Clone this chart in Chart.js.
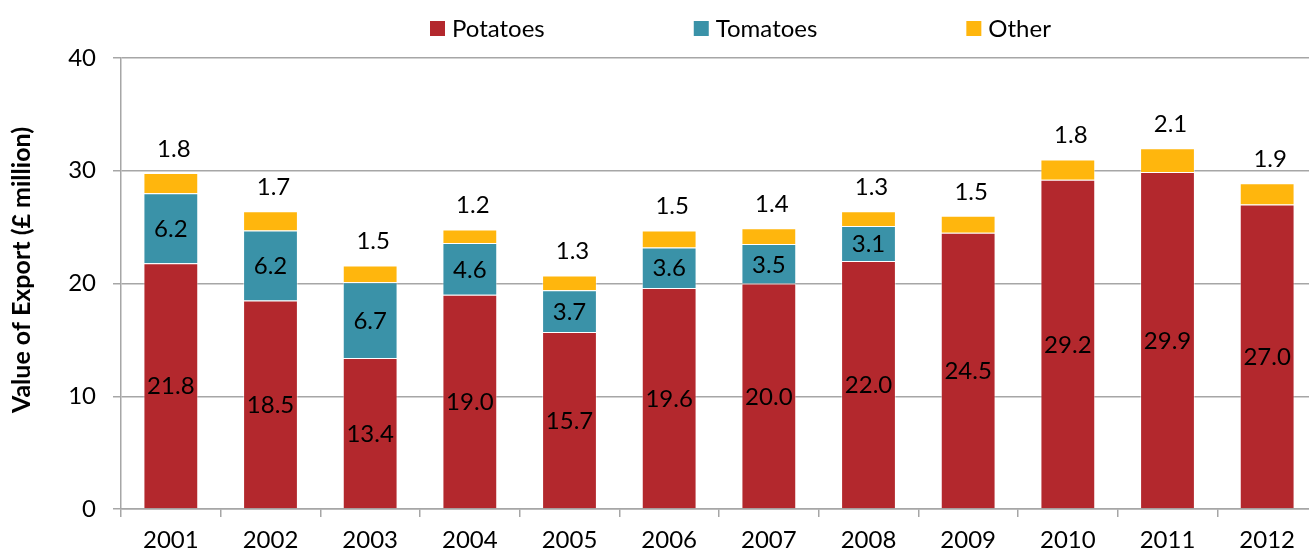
<!DOCTYPE html>
<html lang="en">

<head>
    <meta charset="UTF-8">
    <title>Value of Export</title>
    <style>
        body {
            margin: 0;
            padding: 0;
            background: #ffffff;
            overflow: hidden;
        }

        #wrap {
            width: 1320px;
            height: 554px;
        }
    </style>
</head>

<body>
    <div id="wrap">
        <canvas id="exportChart" width="1320" height="554"></canvas>
    </div>

    <script src="https://cdn.jsdelivr.net/npm/chart.js"></script>
    <script>
        // values
        const years = ['2001', '2002', '2003', '2004', '2005', '2006', '2007', '2008', '2009', '2010', '2011', '2012'];
        const potatoes = [21.8, 18.5, 13.4, 19.0, 15.7, 19.6, 20.0, 22.0, 24.5, 29.2, 29.9, 27.0];
        const tomatoes = [6.2, 6.2, 6.7, 4.6, 3.7, 3.6, 3.5, 3.1, null, null, null, null];
        const other = [1.8, 1.7, 1.5, 1.2, 1.3, 1.5, 1.4, 1.3, 1.5, 1.8, 2.1, 1.9];
        const yTicks = [0, 10, 20, 30, 40];
        const yTitle = 'Value of Export (£ million)';

        const FONT = 'Lato, "Open Sans", sans-serif';
        const GRID = '#a6a6a6';

        // value labels: inside for the two big series, above the bar for "Other"
        const valueLabels = {
            id: 'valueLabels',
            afterDatasetsDraw(chart) {
                const ctx = chart.ctx;
                ctx.save();
                ctx.font = '24px ' + FONT;
                ctx.fillStyle = '#000';
                ctx.textAlign = 'center';
                chart.data.datasets.forEach((ds, di) => {
                    const meta = chart.getDatasetMeta(di);
                    meta.data.forEach((bar, i) => {
                        const v = ds.data[i];
                        if (v == null) return;
                        const txt = v.toFixed(1);
                        if (ds.label === 'Other') {
                            ctx.textBaseline = 'bottom';
                            ctx.fillText(txt, bar.x + 3, bar.y - 12);
                        } else {
                            ctx.textBaseline = 'middle';
                            ctx.fillText(txt, bar.x, (bar.y + bar.base) / 2 + 1);
                        }
                    });
                });
                ctx.restore();
            }
        };

        // legend spaced out like the original, plus the rotated axis title
        const wideLegend = {
            id: 'wideLegend',
            afterDraw(chart) {
                const ctx = chart.ctx;
                ctx.save();
                ctx.font = '24px ' + FONT;
                ctx.textBaseline = 'middle';
                ctx.textAlign = 'left';
                let x = 430;
                const y = 28.5;
                chart.data.datasets.forEach(ds => {
                    ctx.fillStyle = ds.backgroundColor;
                    ctx.fillRect(x, y - 7.5, 15, 15);
                    ctx.fillStyle = '#000';
                    ctx.fillText(ds.label, x + 22, y + 1);
                    x += 22 + ctx.measureText(ds.label).width + 149;
                });

                // y axis title, a little above the plot's middle as in the original
                ctx.translate(22, 270);
                ctx.rotate(-Math.PI / 2);
                ctx.textAlign = 'center';
                ctx.font = 'bold 25px ' + FONT;
                ctx.fillText(yTitle, 0, 0);
                ctx.restore();
            }
        };

        const ctx = document.getElementById('exportChart').getContext('2d');
        const exportChart = new Chart(ctx, {
            type: 'bar',
            data: {
                labels: years,
                datasets: [{
                    label: 'Potatoes',
                    data: potatoes,
                    backgroundColor: '#b3282d',
                }, {
                    label: 'Tomatoes',
                    data: tomatoes,
                    backgroundColor: '#3a92a8',
                }, {
                    label: 'Other',
                    data: other,
                    backgroundColor: '#ffb60d',
                }]
            },
            options: {
                responsive: false,
                devicePixelRatio: 1,
                animation: false,
                layout: {
                    padding: { top: 58, right: 3, left: 0, bottom: 0 }
                },
                datasets: {
                    bar: {
                        barPercentage: 0.55,
                        categoryPercentage: 1.0,
                        borderWidth: 1,
                        borderColor: 'rgba(255,255,255,0.45)'
                    }
                },
                plugins: {
                    legend: { display: false },
                    tooltip: { enabled: false }
                },
                scales: {
                    x: {
                        stacked: true,
                        grid: {
                            offset: true,
                            drawOnChartArea: false,
                            color: GRID,
                            lineWidth: 1.5,
                            tickLength: 8
                        },
                        border: { color: GRID, width: 1.5 },
                        ticks: {
                            color: '#000',
                            font: { family: FONT, size: 24 },
                            padding: 9,
                            maxRotation: 0
                        },
                        afterFit(scale) {
                            scale.height = 45;
                        }
                    },
                    y: {
                        stacked: true,
                        min: yTicks[0],
                        max: yTicks[yTicks.length - 1],
                        afterBuildTicks(scale) {
                            scale.ticks = yTicks.map(v => ({ value: v }));
                        },
                        grid: {
                            color: GRID,
                            lineWidth: 1.5,
                            tickLength: 8
                        },
                        border: { color: GRID, width: 1.5 },
                        ticks: {
                            color: '#000',
                            font: { family: FONT, size: 24 },
                            padding: 17
                        },
                        afterFit(scale) {
                            scale.width = 121;
                        }
                    }
                }
            },
            plugins: [valueLabels, wideLegend]
        });
    </script>
</body>

</html>
